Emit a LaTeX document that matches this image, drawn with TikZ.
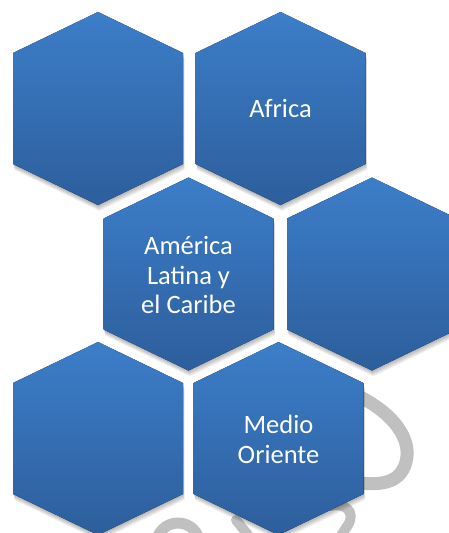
\documentclass[tikz,border=0pt]{standalone}
\usepackage{fontspec}
\setmainfont{Carlito}
\definecolor{hextop}{RGB}{60,126,201}
\definecolor{hexbot}{RGB}{45,94,156}
\definecolor{wm}{RGB}{192,192,192}
\tikzset{
  hexfill/.style={top color=hextop, bottom color=hexbot, draw=none},
  hexshadow/.style={fill=black, opacity=0.05, draw=none},
  hexlabel/.style={text=white, font=\fontsize{26.5}{29.5}\selectfont, align=center, inner sep=0pt},
  wmark/.style={draw=wm, line width=13pt, line cap=round},
}
\newcommand{\hexshadowat}[2]{%
  \foreach \k in {1,...,6}{%
    \begin{scope}[shift={(#1+0.25*\k,#2+1.0*\k)}]
      \fill[hexshadow] (0,-96.5) -- (85,-55.5) -- (85,55.5) -- (0,96.5) -- (-85,55.5) -- (-85,-55.5) -- cycle;
    \end{scope}}}
\newcommand{\hexfillat}[2]{%
  \begin{scope}[shift={(#1,#2)}]
    \fill[hexfill] (0,-96.5) -- (85,-55.5) -- (85,55.5) -- (0,96.5) -- (-85,55.5) -- (-85,-55.5) -- cycle;
  \end{scope}}
\begin{document}
\begin{tikzpicture}[x=1pt,y=-1pt]
  \useasboundingbox (0,0) rectangle (449,533);
  \clip (0,0) rectangle (449,533);
  \fill[white] (0,0) rectangle (449,533);
  % watermark strokes behind the hexagons
  \draw[wmark] (350,392) .. controls (395,412) and (412,440) .. (406,462)
               .. controls (400,484) and (380,486) .. (352,482);
  \draw[wmark, line width=11pt] (178,545) circle (22);
  \draw[wmark, line width=10pt] (236,520) -- (256,545);
  \draw[wmark, line width=10pt] (330,506) .. controls (345,502) and (356,512) .. (348,525) -- (338,540);
  % shadows
  \hexshadowat{98}{108.5}
  \hexshadowat{280.5}{108.5}
  \hexshadowat{188.5}{274}
  \hexshadowat{372}{274}
  \hexshadowat{98}{438.5}
  \hexshadowat{278.5}{438.5}
  % hexagons
  \hexfillat{98}{108.5}
  \hexfillat{280.5}{108.5}
  \hexfillat{188.5}{274}
  \hexfillat{372}{274}
  \hexfillat{98}{438.5}
  \hexfillat{278.5}{438.5}
  % labels
  \node[hexlabel] (africa) at (280.5,108.5) {Africa};
  \node[hexlabel] (latam) at (188.5,275) {América\\Latina y\\el Caribe};
  \node[hexlabel] (medio) at (278.5,439.5) {Medio\\Oriente};
\end{tikzpicture}
\end{document}
